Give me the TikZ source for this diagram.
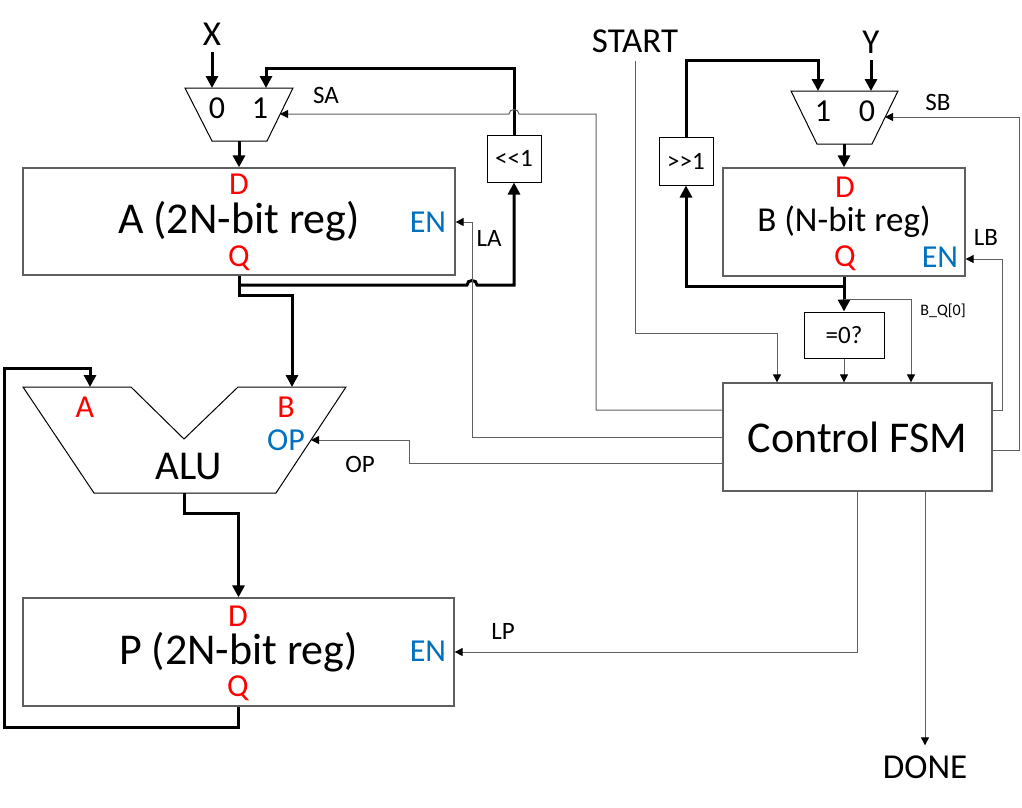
\documentclass[tikz,border=0pt]{standalone}
\usepackage{fontspec}
\setmainfont{Carlito}
\usetikzlibrary{arrows.meta,positioning,calc}
\definecolor{portred}{RGB}{255,0,0}
\definecolor{enblue}{RGB}{0,112,192}
\definecolor{wiregray}{RGB}{95,95,95}
\tikzset{
  reg/.style={draw=wiregray, line width=1.3pt, inner sep=0pt},
  opbox/.style={draw, line width=1pt, inner sep=0pt},
  bus/.style={line width=3pt, -{Triangle[length=12pt,width=12pt]}},
  wire/.style={draw=wiregray, line width=1pt, -{Triangle[length=8pt,width=8pt,color=black]}},
  txtL/.style={font=\fontsize{44}{44}\selectfont, inner sep=0pt},
  txtM/.style={font=\fontsize{35}{35}\selectfont, inner sep=0pt},
  port/.style={font=\fontsize{32}{32}\selectfont, inner sep=0pt},
  sig/.style={font=\fontsize{25}{25}\selectfont, inner sep=0pt},
  sigsmall/.style={font=\fontsize{16}{16}\selectfont, inner sep=0pt},
}

\begin{document}
\begin{tikzpicture}[x=1pt,y=-1pt]
\useasboundingbox (0,0) rectangle (1022,807);

% registers and blocks
\node[reg, txtL, minimum width=432, minimum height=107] (regA) at (239,221.5) {A (2N-bit reg)};
\node[reg, txtM, minimum width=242, minimum height=108] (regB) at (844,222) {B (N-bit reg)};
\node[reg, txtL, minimum width=431, minimum height=108] (regP) at (238.5,652) {P (2N-bit reg)};
\node[reg, txtL, minimum width=269, minimum height=108] (fsm) at (857.5,437) {Control FSM};
\node[opbox, sig, minimum width=54, minimum height=47] (shl) at (514,158.5) {<\kern0pt<1};
\node[opbox, sig, minimum width=54, minimum height=48] (shr) at (686,161) {>\kern0pt>1};
\node[opbox, sig, minimum width=80, minimum height=46] (zero) at (844,335) {=0?};

\node[port, text=portred] (regA-d) at (239,184.5) {D};
\node[port, text=portred] (regA-q) at (239,258) {Q};
\node[port, text=enblue] (regA-en) at (428,222) {EN};
\node[port, text=portred] (regB-d) at (845,187) {D};
\node[port, text=portred] (regB-q) at (845,258) {Q};
\node[port, text=enblue] (regB-en) at (940,257) {EN};
\node[port, text=portred] (regP-d) at (238,616) {D};
\node[port, text=portred] (regP-q) at (238,688) {Q};
\node[port, text=enblue] (regP-en) at (428,651) {EN};

% muxes
\draw[line width=1pt] (185,88) -- (293,88) -- (267,141) -- (212,141) -- cycle;
\coordinate (muxA-in0) at (212,88);
\coordinate (muxA-in1) at (266,88);
\coordinate (muxA-sel) at (280,114);
\coordinate (muxA-out) at (239,141);
\node[port] (muxA-0) at (217,108) {0};
\node[port] (muxA-1) at (260,108) {1};

\draw[line width=1pt] (791,91) -- (898,91) -- (872,144) -- (817,144) -- cycle;
\coordinate (muxB-in1) at (818,91);
\coordinate (muxB-in0) at (871,91);
\coordinate (muxB-sel) at (885,117);
\coordinate (muxB-out) at (844,144);
\node[port] (muxB-1) at (823,111) {1};
\node[port] (muxB-0) at (867,111) {0};

% ALU
\draw[line width=1pt] (23,387) -- (131,387) -- (184,439) -- (238,387) -- (346,387)
  -- (276,493) -- (94,493) -- cycle;
\coordinate (alu-a) at (90,387);
\coordinate (alu-b) at (292,387);
\coordinate (alu-op) at (311,440);
\coordinate (alu-out) at (184,493);
\node[port, text=portred] (alu-la) at (85,407) {A};
\node[port, text=portred] (alu-lb) at (286,407) {B};
\node[port, text=enblue] (alu-lop) at (286,440) {OP};
\node[font=\fontsize{41}{41}\selectfont, inner sep=0pt] (alu-name) at (189,466) {ALU};

% inputs and outputs
\node[txtM] (X) at (212,34) {X};
\node[txtM] (Y) at (871,42) {Y};
\node[txtM] (start) at (635,41) {START};
\node[txtM] (done) at (925,767) {DONE};

% datapath
\draw[bus, shorten <=7pt] (X.south) -- (muxA-in0);
\draw[bus, shorten <=7pt] (Y.south) -- (muxB-in0);
\draw[bus] (muxA-out) -- (regA.north);
\draw[bus] (muxB-out) -- (regB.north);
\draw[bus] (shl.north) |- (muxA-in1 |- 0,68) -- (muxA-in1);
\draw[bus] (shr.north) |- (muxB-in1 |- 0,60) -- (muxB-in1);
\draw[bus] (regA.south) -- (239,295) -| (alu-b);
\draw[bus] (239,285) -- (467,285) .. controls (467,279) and (477,279) .. (477,285)
  -- (514,285) -- (shl.south);
\draw[bus] (regB.south) -- (zero.north);
\draw[bus] (844,286) -| (shr.south);
\draw[bus] (alu-out) -- (184,513) -| (regP.north);
\draw[bus] (regP.south) -- (238.5,727) -| (4,368) -| (alu-a);

% control
\coordinate (bq-tap) at (844,299);
\draw[wire, shorten <=8pt] (start.south) |- (777,333) -- (fsm.north -| 777,0);
\draw[wire] (zero.south) -- (fsm.north -| zero.south);
\draw[wire] (bq-tap) -| (fsm.north -| 911,0);
\draw[wire] (fsm.west |- 0,410) -| (596,114) -- (519,114)
  .. controls (519,108) and (509,108) .. (509,114) -- (muxA-sel);
\draw[wire] (fsm.west) -| (472,222) -- (regA.east |- 0,222);
\draw[wire] (fsm.west |- 0,463) -| (409,440) -- (alu-op);
\draw[wire] (fsm.east |- 0,410) -| (1002,259) -- (regB.east |- 0,259);
\draw[wire] (fsm.east |- 0,450) -| (1019,117) -- (muxB-sel);
\draw[wire] (fsm.south) |- (regP.east);
\draw[wire, shorten >=10pt] (fsm.south -| 925,0) -- (done.north);

\node[sig] (lblSA) at (326,95) {SA};
\node[sig] (lblLA) at (489,238) {LA};
\node[sig] (lblLB) at (986,237) {LB};
\node[sig] (lblSB) at (938,102) {SB};
\node[sig] (lblOP) at (360,464) {OP};
\node[sig] (lblLP) at (503,631) {LP};
\node[sigsmall] (lblBQ) at (943,311) {B\_Q[0]};
\end{tikzpicture}
\end{document}
